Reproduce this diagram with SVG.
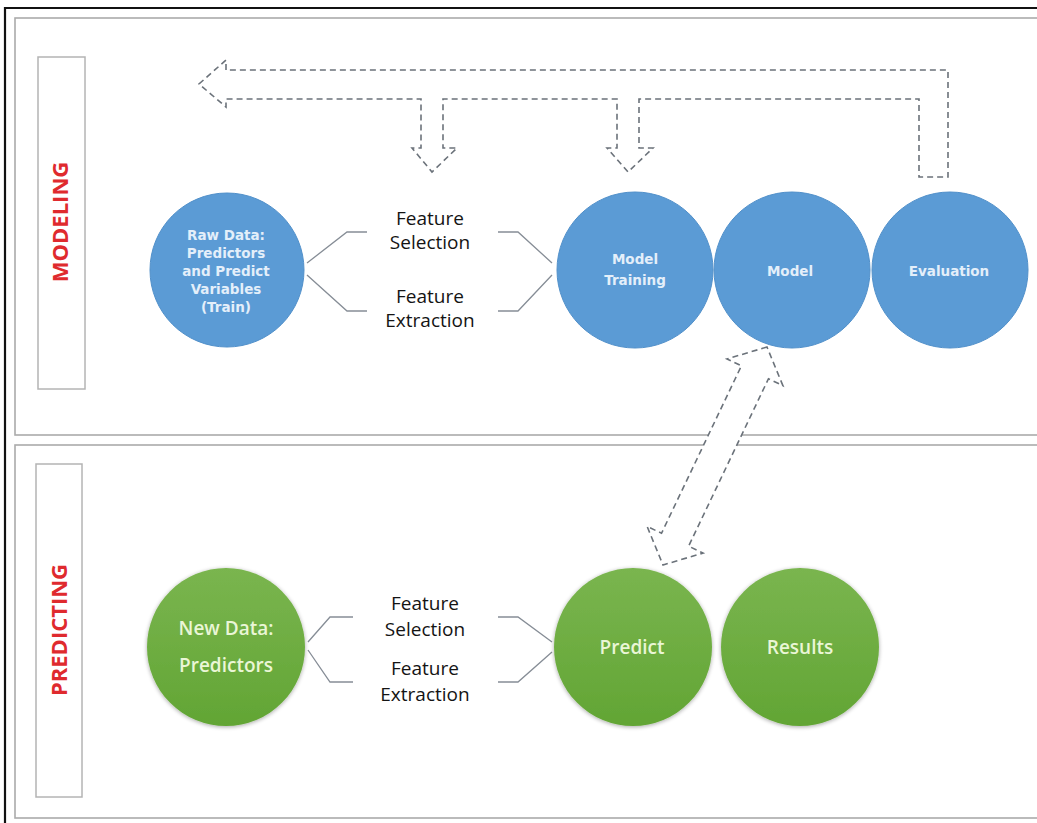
<svg xmlns="http://www.w3.org/2000/svg" width="1037" height="823" viewBox="0 0 1037 823">
<style>
.panel{fill:#fff;stroke:#ababab;stroke-width:1.6}
.lbl{fill:#fff;stroke:#b4b4b4;stroke-width:1.5}
.side{font-family:"Open Sans","Noto Sans",sans-serif;font-weight:700;font-size:22px;fill:#df2a2e;text-anchor:middle}
.blue{fill:#5b9bd5;stroke:#5190ca;stroke-width:1}
.green{fill:url(#gg);filter:url(#sh)}
.bt{font-family:"DejaVu Sans",sans-serif;font-weight:700;font-size:13.5px;fill:#e4effa;text-anchor:middle}
.gt{font-family:"Open Sans","Noto Sans",sans-serif;font-weight:600;font-size:19px;fill:#eaf6d6;text-anchor:middle}
.ft{font-family:"Open Sans","Noto Sans",sans-serif;font-size:19px;fill:#141414;text-anchor:middle}
.br{fill:none;stroke:#868d96;stroke-width:1.3}
.dash{fill:#fff;stroke:#6b727a;stroke-width:1.6;stroke-dasharray:6 4;stroke-linejoin:miter}
</style>
<defs>
<linearGradient id="gg" x1="0" y1="0" x2="0" y2="1">
<stop offset="0" stop-color="#7ab54f"/>
<stop offset="1" stop-color="#62a534"/>
</linearGradient>
<filter id="sh" x="-20%" y="-20%" width="140%" height="140%">
<feGaussianBlur in="SourceAlpha" stdDeviation="2"/>
<feOffset dy="1" result="b"/>
<feComponentTransfer><feFuncA type="linear" slope="0.35"/></feComponentTransfer>
<feMerge><feMergeNode/><feMergeNode in="SourceGraphic"/></feMerge>
</filter>
</defs>
<rect width="1037" height="823" fill="#fff"/>
<g id="frame">
<path d="M5,823 V8 H1037" fill="none" stroke="#111" stroke-width="2.2"/>
</g>
<g id="panel-modeling">
<rect class="panel" x="15" y="18" width="1040" height="417"/>
<rect class="lbl" x="38" y="57" width="47" height="332"/>
<text class="side" transform="translate(68,222) rotate(-90)">MODELING</text>
</g>
<g id="panel-predicting">
<rect class="panel" x="15" y="445" width="1040" height="373"/>
<rect class="lbl" x="36" y="464" width="46" height="333"/>
<text class="side" transform="translate(67,630) rotate(-90)">PREDICTING</text>
</g>
<g id="connectors">
<path class="dash" d="M199,84 L226,60 L226,70 L948,70 L948,177 L919,177 L919,99 L639,99 L639,148 L653,148 L628,172 L607,148 L617,148 L617,99 L443,99 L443,148 L457,148 L432,172 L412,148 L421,148 L421,99 L226,99 L226,107 Z"/>
<path class="dash" transform="translate(715,456) rotate(-64.5)" d="M120.75,0 L92.75,-31 L92.75,-15 L-92.75,-15 L-92.75,-31 L-120.75,0 L-92.75,31 L-92.75,15 L92.75,15 L92.75,31 Z"/>
<path class="br" d="M307,263 L347,232 L367,232 M307,275 L347,311 L367,311 M498,232 L518,232 L552,263 M498,311 L518,311 L552,275"/>
<path class="br" d="M308,642 L330,617 L353,617 M308,650 L330,682 L353,682 M498,617 L518,617 L552,642 M498,682 L518,682 L552,652"/>
</g>
<g id="fs-top">
<text class="ft" x="430" y="225">Feature</text>
<text class="ft" x="430" y="249">Selection</text>
<text class="ft" x="430" y="303">Feature</text>
<text class="ft" x="430" y="327">Extraction</text>
</g>
<g id="fs-bottom">
<text class="ft" x="425" y="610">Feature</text>
<text class="ft" x="425" y="636">Selection</text>
<text class="ft" x="425" y="675">Feature</text>
<text class="ft" x="425" y="701">Extraction</text>
</g>
<g id="raw-data">
<circle class="blue" cx="227" cy="270" r="77"/>
<text class="bt" x="226" y="240">Raw Data:</text>
<text class="bt" x="226" y="258">Predictors</text>
<text class="bt" x="226" y="276">and Predict</text>
<text class="bt" x="226" y="294">Variables</text>
<text class="bt" x="226" y="312">(Train)</text>
</g>
<g id="model-training">
<circle class="blue" cx="635" cy="270" r="78"/>
<text class="bt" x="635" y="264">Model</text>
<text class="bt" x="635" y="285">Training</text>
</g>
<g id="model">
<circle class="blue" cx="792" cy="270" r="78"/>
<text class="bt" x="790" y="276">Model</text>
</g>
<g id="evaluation">
<circle class="blue" cx="950" cy="270" r="78"/>
<text class="bt" x="949" y="276">Evaluation</text>
</g>
<g id="new-data">
<circle class="green" cx="226" cy="647" r="79"/>
<text class="gt" x="226" y="635">New Data:</text>
<text class="gt" x="226" y="672">Predictors</text>
</g>
<g id="predict">
<circle class="green" cx="633" cy="647" r="79"/>
<text class="gt" x="632" y="654">Predict</text>
</g>
<g id="results">
<circle class="green" cx="800" cy="647" r="79"/>
<text class="gt" x="800" y="654">Results</text>
</g>
</svg>
